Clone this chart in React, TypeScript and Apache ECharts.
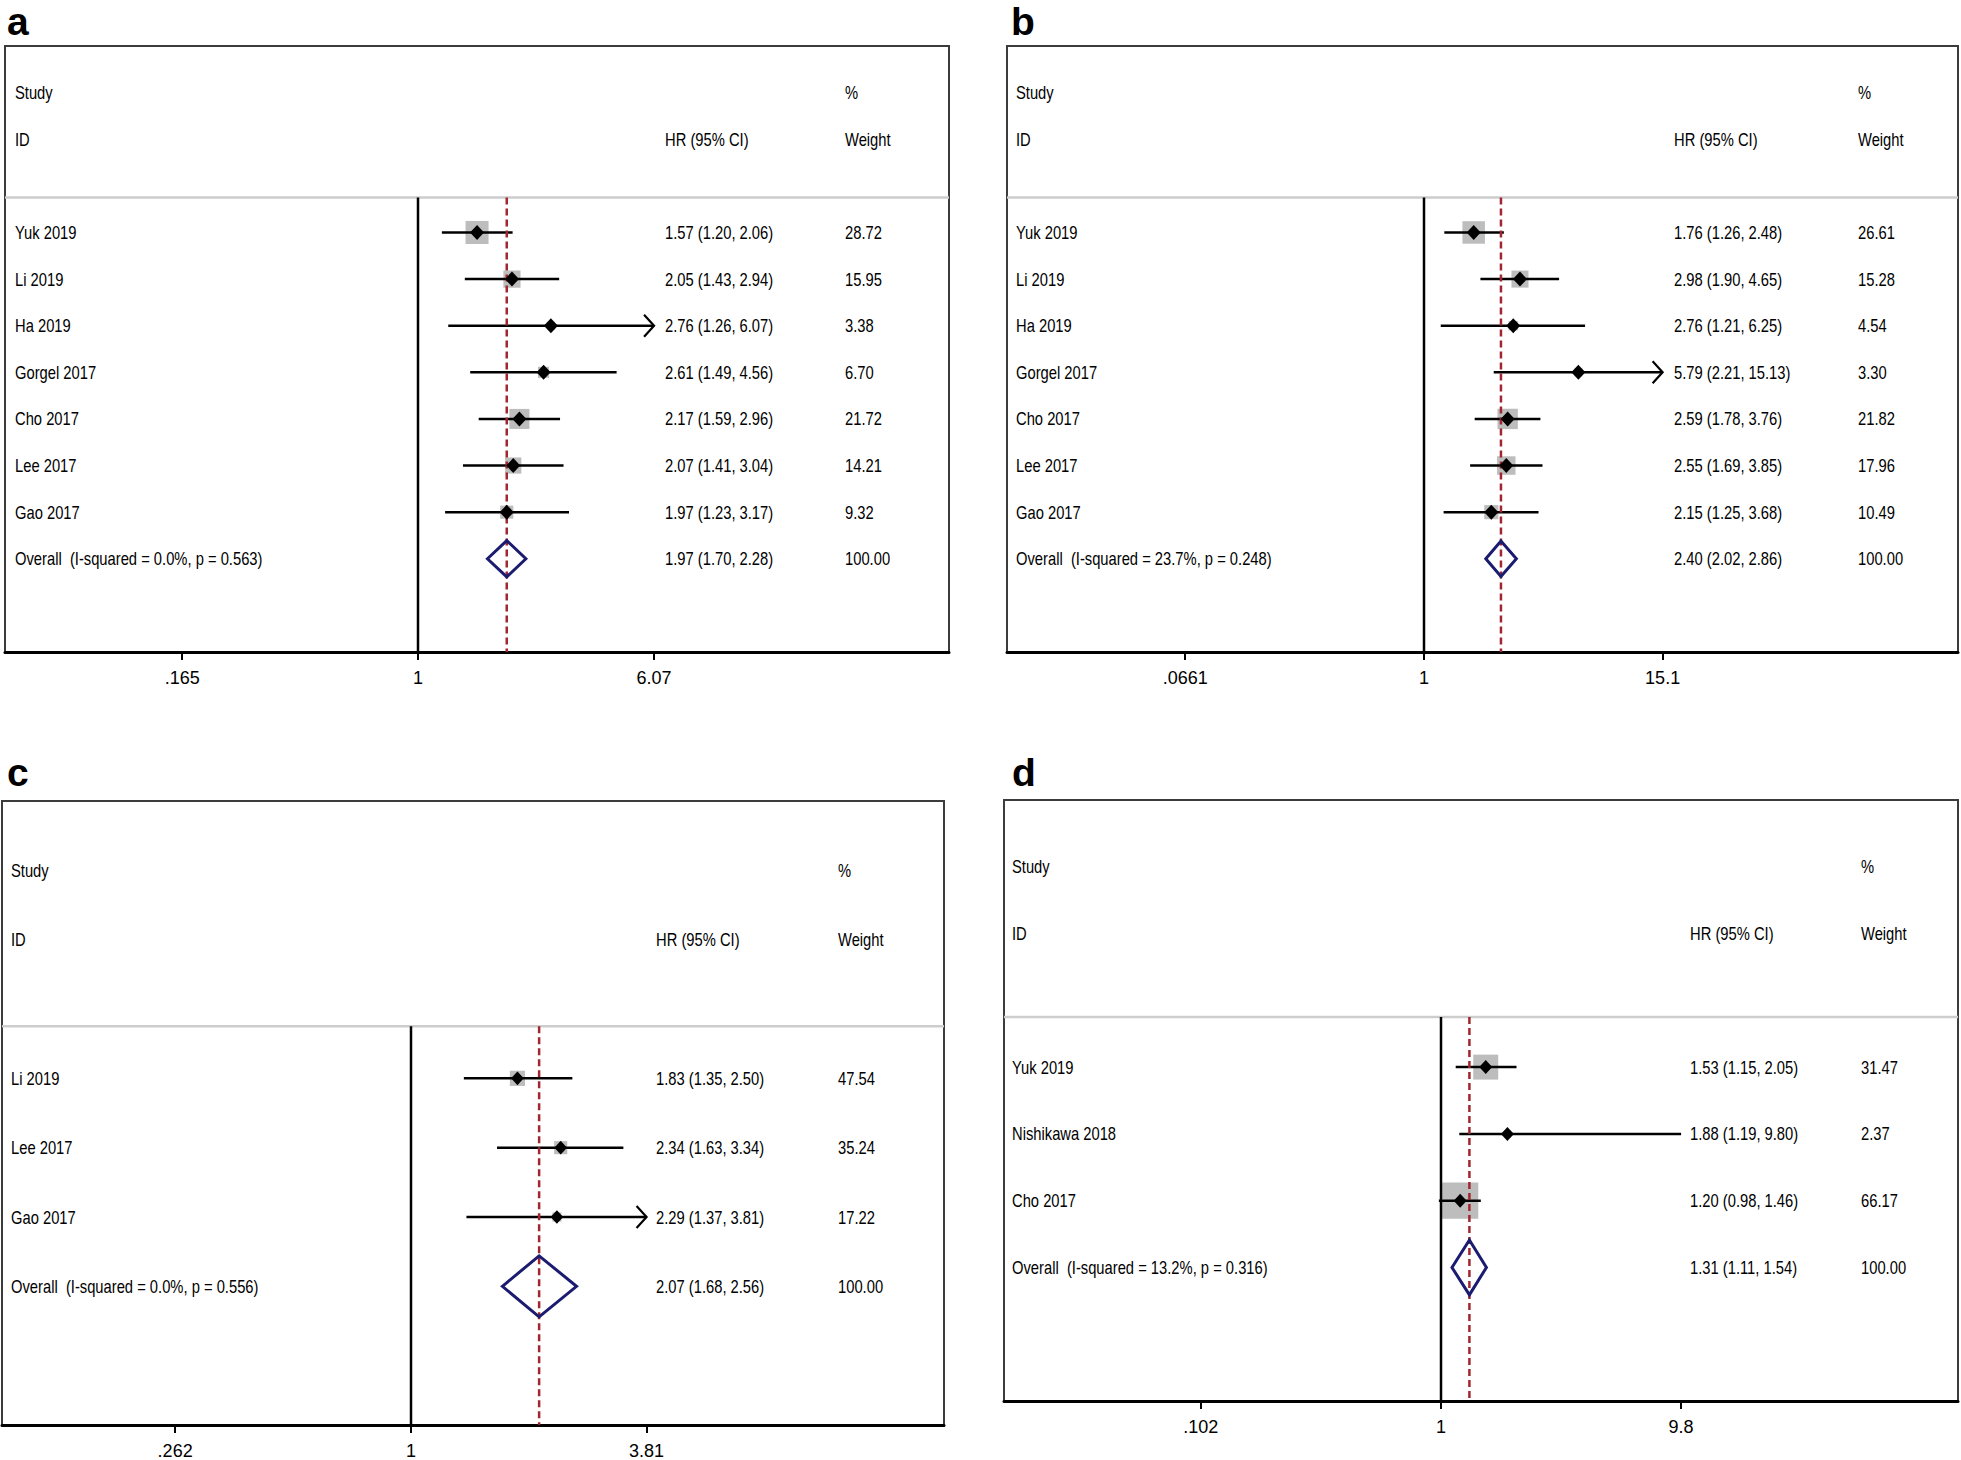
import React, { useEffect, useRef } from "react";
import * as echarts from "echarts";

// ---------------- Panel a ----------------
const studiesA = ["Yuk 2019", "Li 2019", "Ha 2019", "Gorgel 2017", "Cho 2017", "Lee 2017", "Gao 2017"];
const hrA = [1.57, 2.05, 2.76, 2.61, 2.17, 2.07, 1.97];
const lowA = [1.2, 1.43, 1.26, 1.49, 1.59, 1.41, 1.23];
const highA = [2.06, 2.94, 6.07, 4.56, 2.96, 3.04, 3.17];
const weightA = [28.72, 15.95, 3.38, 6.7, 21.72, 14.21, 9.32];
const arrowA = [false, false, true, false, false, false, false];
const overallLabelA = "Overall  (I-squared = 0.0%, p = 0.563)";
const overallA = [1.97, 1.7, 2.28];
const tickLabelsA = [".165", "1", "6.07"];

// ---------------- Panel b ----------------
const studiesB = ["Yuk 2019", "Li 2019", "Ha 2019", "Gorgel 2017", "Cho 2017", "Lee 2017", "Gao 2017"];
const hrB = [1.76, 2.98, 2.76, 5.79, 2.59, 2.55, 2.15];
const lowB = [1.26, 1.9, 1.21, 2.21, 1.78, 1.69, 1.25];
const highB = [2.48, 4.65, 6.25, 15.13, 3.76, 3.85, 3.68];
const weightB = [26.61, 15.28, 4.54, 3.3, 21.82, 17.96, 10.49];
const arrowB = [false, false, false, true, false, false, false];
const overallLabelB = "Overall  (I-squared = 23.7%, p = 0.248)";
const overallB = [2.4, 2.02, 2.86];
const tickLabelsB = [".0661", "1", "15.1"];

// ---------------- Panel c ----------------
const studiesC = ["Li 2019", "Lee 2017", "Gao 2017"];
const hrC = [1.83, 2.34, 2.29];
const lowC = [1.35, 1.63, 1.37];
const highC = [2.5, 3.34, 3.81];
const weightC = [47.54, 35.24, 17.22];
const arrowC = [false, false, true];
const overallLabelC = "Overall  (I-squared = 0.0%, p = 0.556)";
const overallC = [2.07, 1.68, 2.56];
const tickLabelsC = [".262", "1", "3.81"];

// ---------------- Panel d ----------------
const studiesD = ["Yuk 2019", "Nishikawa 2018", "Cho 2017"];
const hrD = [1.53, 1.88, 1.2];
const lowD = [1.15, 1.19, 0.98];
const highD = [2.05, 9.8, 1.46];
const weightD = [31.47, 2.37, 66.17];
const arrowD = [false, false, false];
const overallLabelD = "Overall  (I-squared = 13.2%, p = 0.316)";
const overallD = [1.31, 1.11, 1.54];
const tickLabelsD = [".102", "1", "9.8"];

const panelLetters = ["a", "b", "c", "d"];

const panels = [
  { studies: studiesA, hr: hrA, low: lowA, high: highA, weight: weightA, arrow: arrowA, overallLabel: overallLabelA, overall: overallA, tickLabels: tickLabelsA },
  { studies: studiesB, hr: hrB, low: lowB, high: highB, weight: weightB, arrow: arrowB, overallLabel: overallLabelB, overall: overallB, tickLabels: tickLabelsB },
  { studies: studiesC, hr: hrC, low: lowC, high: highC, weight: weightC, arrow: arrowC, overallLabel: overallLabelC, overall: overallC, tickLabels: tickLabelsC },
  { studies: studiesD, hr: hrD, low: lowD, high: highD, weight: weightD, arrow: arrowD, overallLabel: overallLabelD, overall: overallD, tickLabels: tickLabelsD },
];

// layout (pixels): box = [left, top, right, bottom]; one = pixel x of HR 1; ppl = pixels per ln unit
const layouts = [
  { box: [5, 46, 949, 652], one: 418, ppl: 130.9, cols: [15, 665, 845], letter: [7, 21], boxK: 4.3, dh: 0.39, mk: 7 },
  { box: [1007, 46, 1958, 652], one: 1424, ppl: 87.9, cols: [1016, 1674, 1858], letter: [1011, 21], boxK: 4.36, dh: 0.38, mk: 7 },
  { box: [2, 801, 944, 1428], one: 411, ppl: 176.1, cols: [11, 656, 838], letter: [7, 772], boxK: 2.2, dh: 0.44, mk: 6.3 },
  { box: [1004, 800, 1958, 1401], one: 1441, ppl: 105.2, cols: [1012, 1690, 1861], letter: [1012, 772], boxK: 4.45, dh: 0.41, mk: 6.5 },
];

function narrowAvailable(): boolean {
  try {
    const c = document.createElement("canvas").getContext("2d");
    if (!c) return false;
    const s = "Overall (I-squared = 0.0%, p = 0.563) 1.57";
    c.font = "18px monospace";
    const w0 = c.measureText(s).width;
    c.font = '18px "Liberation Sans Narrow", monospace';
    const w1 = c.measureText(s).width;
    return Math.abs(w0 - w1) > 1;
  } catch (e) {
    return false;
  }
}

function buildOption() {
  const narrow = narrowAvailable();
  const F = narrow ? "Liberation Sans Narrow" : "Liberation Sans";
  const sx = narrow ? 1 : 0.82;
  const grid: any[] = [];
  const xAxis: any[] = [];
  const yAxis: any[] = [];
  const series: any[] = [];
  const graphic: any[] = [];

  panels.forEach((p, i) => {
    const L = layouts[i];
    const [l, t, r, b] = L.box;
    const xMin = (l - L.one) / L.ppl;
    const xMax = (r - L.one) / L.ppl;
    const n = p.studies.length;
    const yMax = n + 2;
    const tickNums = p.tickLabels.map((s) => parseFloat(s));
    const tickVals = tickNums.map((v) => Math.log(v));
    const maxTick = tickNums[tickNums.length - 1];

    grid.push({ left: l, top: t, width: r - l, height: b - t, show: true, borderColor: "#3c3c3c", borderWidth: 2, backgroundColor: "transparent" });
    xAxis.push({
      type: "value",
      gridIndex: i,
      min: xMin,
      max: xMax,
      position: "bottom",
      axisLine: { show: true, onZero: false, lineStyle: { color: "#000", width: 3 } },
      axisTick: { show: true, customValues: tickVals, length: 8, lineStyle: { color: "#000", width: 2 } },
      axisLabel: {
        show: true,
        customValues: tickVals,
        margin: 17,
        color: "#000",
        fontSize: 18,
        fontFamily: F,
        formatter: (v: number) => {
          const k = tickVals.findIndex((tv) => Math.abs(tv - v) < 1e-6);
          return k >= 0 ? p.tickLabels[k] : "";
        },
      },
      splitLine: { show: false },
    });
    yAxis.push({ type: "value", gridIndex: i, inverse: true, min: -4, max: yMax, show: false });

    // reference lines + separator
    series.push({
      type: "custom",
      xAxisIndex: i,
      yAxisIndex: i,
      z: 2,
      silent: true,
      data: [
        [Math.log(1), 0],
        [Math.log(p.overall[0]), 1],
      ],
      renderItem: (params: any, api: any) => {
        const x = api.value(0);
        const kind = api.value(1);
        const a = api.coord([x, -0.75]);
        const bb = api.coord([x, yMax]);
        const cs = params.coordSys;
        const children: any[] = [];
        if (kind === 0) {
          children.push({ type: "line", z2: 0, shape: { x1: cs.x, y1: a[1], x2: cs.x + cs.width, y2: a[1] }, style: { stroke: "#cdcdcd", lineWidth: 2.5 } });
          children.push({ type: "line", z2: 2, shape: { x1: a[0], y1: a[1], x2: bb[0], y2: bb[1] }, style: { stroke: "#000", lineWidth: 2.5 } });
        } else {
          children.push({ type: "line", z2: 4, shape: { x1: a[0], y1: a[1], x2: bb[0], y2: bb[1] }, style: { stroke: "#a0262f", lineWidth: 2.5, lineDash: [7, 4] } });
        }
        return { type: "group", children };
      },
    });

    // study rows
    series.push({
      type: "custom",
      xAxisIndex: i,
      yAxisIndex: i,
      z: 2,
      silent: true,
      data: p.hr.map((h, k) => [Math.log(h), k, Math.log(p.low[k]), Math.log(Math.min(p.high[k], maxTick)), p.weight[k], p.arrow[k] ? 1 : 0]),
      renderItem: (params: any, api: any) => {
        const row = api.value(1);
        const c = api.coord([api.value(0), row]);
        const lo = api.coord([api.value(2), row]);
        const hi = api.coord([api.value(3), row]);
        const side = L.boxK * Math.sqrt(api.value(4));
        const arrow = api.value(5) === 1;
        const m = L.mk;
        const children: any[] = [
          { type: "rect", z2: 1, shape: { x: c[0] - side / 2, y: c[1] - side / 2, width: side, height: side }, style: { fill: "#bdbdbd" } },
          { type: "line", z2: 3, shape: { x1: lo[0], y1: lo[1], x2: hi[0], y2: hi[1] }, style: { stroke: "#000", lineWidth: 2.5 } },
          { type: "polygon", z2: 10, shape: { points: [[c[0] - m, c[1]], [c[0], c[1] - m - 0.5], [c[0] + m, c[1]], [c[0], c[1] + m + 0.5]] }, style: { fill: "#000" } },
        ];
        if (arrow) {
          children.push({ type: "polyline", z2: 3, shape: { points: [[hi[0] - 10, hi[1] - 11], [hi[0], hi[1]], [hi[0] - 10, hi[1] + 11]] }, style: { stroke: "#000", lineWidth: 2.2, fill: null } });
        }
        return { type: "group", children };
      },
    });

    // overall diamond
    series.push({
      type: "custom",
      xAxisIndex: i,
      yAxisIndex: i,
      z: 2,
      silent: true,
      data: [[Math.log(p.overall[0]), n, Math.log(p.overall[1]), Math.log(p.overall[2])]],
      renderItem: (params: any, api: any) => {
        const row = api.value(1);
        const top = api.coord([api.value(0), row - L.dh]);
        const bot = api.coord([api.value(0), row + L.dh]);
        const lo = api.coord([api.value(2), row]);
        const hi = api.coord([api.value(3), row]);
        return {
          type: "polygon",
          z2: 6,
          shape: { points: [lo, top, hi, bot] },
          style: { fill: "none", stroke: "#1b1b70", lineWidth: 3, lineJoin: "miter" },
        };
      },
    });

    // texts
    const items: { row: number; col: number; text: string }[] = [
      { row: -3, col: 0, text: "Study" },
      { row: -3, col: 2, text: "%" },
      { row: -2, col: 0, text: "ID" },
      { row: -2, col: 1, text: "HR (95% CI)" },
      { row: -2, col: 2, text: "Weight" },
    ];
    p.studies.forEach((s, k) => {
      items.push({ row: k, col: 0, text: s });
      items.push({ row: k, col: 1, text: `${p.hr[k].toFixed(2)} (${p.low[k].toFixed(2)}, ${p.high[k].toFixed(2)})` });
      items.push({ row: k, col: 2, text: p.weight[k].toFixed(2) });
    });
    items.push({ row: n, col: 0, text: p.overallLabel });
    items.push({ row: n, col: 1, text: `${p.overall[0].toFixed(2)} (${p.overall[1].toFixed(2)}, ${p.overall[2].toFixed(2)})` });
    items.push({ row: n, col: 2, text: (100).toFixed(2) });

    series.push({
      type: "custom",
      xAxisIndex: i,
      yAxisIndex: i,
      z: 3,
      silent: true,
      data: items.map((it) => [0, it.row]),
      renderItem: (params: any, api: any) => {
        const it = items[params.dataIndex];
        const y = api.coord([0, api.value(1)])[1];
        return {
          type: "text",
          x: L.cols[it.col],
          y,
          scaleX: sx,
          style: { text: it.text, fill: "#000", fontSize: 18, fontFamily: F, align: "left", verticalAlign: "middle" },
        };
      },
    });

    graphic.push({
      type: "text",
      x: L.letter[0],
      y: L.letter[1],
      style: { text: panelLetters[i], fill: "#000", fontSize: 39, fontWeight: "bold", fontFamily: "Liberation Sans", align: "left", verticalAlign: "middle" },
    });
  });

  return { animation: false, backgroundColor: "#ffffff", grid, xAxis, yAxis, series, graphic };
}

export default function App() {
  const ref = useRef<HTMLDivElement>(null);
  useEffect(() => {
    if (!ref.current) return;
    const chart = echarts.init(ref.current, null, { renderer: "svg" });
    chart.setOption(buildOption() as any);
    return () => chart.dispose();
  }, []);
  return <div ref={ref} style={{ position: "absolute", left: 0, top: 0, width: 1961, height: 1460, background: "#fff" }} />;
}
